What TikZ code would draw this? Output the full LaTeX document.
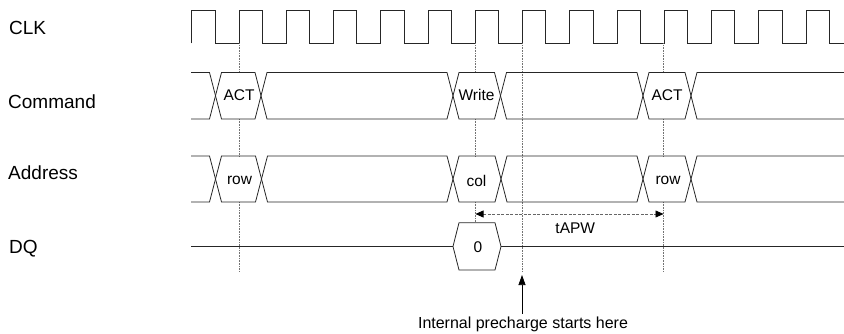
\documentclass[tikz,border=0pt]{standalone}
\usepackage{fontspec}
\setmainfont{Liberation Sans}
\usetikzlibrary{arrows.meta}
\begin{document}
\begin{tikzpicture}[x=1pt,y=-1pt,
  wave/.style={line width=0.8pt, black!85, line join=miter},
  guide/.style={black!55, densely dotted, line width=0.6pt},
  dimline/.style={black!60, dash pattern=on 3pt off 1.5pt, line width=0.6pt,
     {Triangle[length=8pt,width=7pt,black]}-{Triangle[length=8pt,width=7pt,black]}},
  sig/.style={anchor=base west, inner sep=0pt, font=\fontsize{19}{22}\selectfont},
  cell/.style={anchor=base, inner sep=0pt, font=\fontsize{15.5}{18}\selectfont},
  caption/.style={anchor=base, inner sep=0pt, font=\fontsize{16}{19}\selectfont}
]
\useasboundingbox (0,0) rectangle (844,334);

% signal names
\node[sig] (lclk) at (9,35) {CLK};
\node[sig] (lcmd) at (8,108.3) {Command};
\node[sig] (ladr) at (8,180) {Address};
\node[sig] (ldq)  at (9,253) {DQ};

% clock
\draw[wave] (191.7,43.5) -- (191.7,10)
  \foreach \k in {0,...,12} {
    -- ({191.7+47.25*\k+23.4},10) -- ({191.7+47.25*\k+23.4},43.5)
    -- ({191.7+47.25*(\k+1)},43.5) -- ({191.7+47.25*(\k+1)},10) }
  -- (829.4,10) -- (829.4,43.5) -- (844,43.5);

% guide lines
\foreach \x in {239,663.5} {
  \draw[guide] (\x,43.5) -- (\x,72.5);
  \draw[guide] (\x,119) -- (\x,156);
  \draw[guide] (\x,202) -- (\x,272);
}
\draw[guide] (475.5,43.5) -- (475.5,72.5);
\draw[guide] (475.5,119) -- (475.5,156);
\draw[guide] (475.5,202) -- (475.5,222.7);
\draw[guide] (522,43.5) -- (522,272);

% command bus
\draw[wave] (191,72.5) -- (209.5,72.5) -- (215.5,95.75) -- (209.5,119) -- (191,119);
\foreach \a/\b in {215.5/261, 261/453, 453/500.5, 500.5/643, 643/691}
  \draw[wave] (\a,95.75) -- ({\a+6},72.5) -- ({\b-6},72.5) -- (\b,95.75)
    -- ({\b-6},119) -- ({\a+6},119) -- cycle;
\draw[wave] (844,72.5) -- (697,72.5) -- (691,95.75) -- (697,119) -- (844,119);

% address bus
\draw[wave] (191,156) -- (209.5,156) -- (215.5,179) -- (209.5,202) -- (191,202);
\foreach \a/\b in {215.5/261.5, 261.5/453, 453/501, 501/643, 643/691}
  \draw[wave] (\a,179) -- ({\a+6},156) -- ({\b-6},156) -- (\b,179)
    -- ({\b-6},202) -- ({\a+6},202) -- cycle;
\draw[wave] (844,156) -- (697,156) -- (691,179) -- (697,202) -- (844,202);

% DQ
\draw[wave] (191,246.5) -- (453,246.5);
\draw[wave] (453,246.5) -- (459,222.7) -- (495,222.7) -- (501,246.5) -- (495,270) -- (459,270) -- cycle;
\draw[wave] (501,246.5) -- (844,246.5);

% cell texts
\node[cell] (act1)  at (239,100.7) {ACT};
\node[cell] (write) at (476.5,100.7) {Write};
\node[cell] (act2)  at (667,100.7) {ACT};
\node[cell] (row1)  at (239.5,185) {row};
\node[cell] (col)   at (476.5,186) {col};
\node[cell] (row2)  at (668,185) {row};
\node[cell] (d0)    at (478,252.7) {0};

% tAPW
\coordinate (w1) at (475.5,214);
\coordinate (w2) at (663.5,214);
\draw[dimline] (w1) -- (w2);
\node[cell] (tapw) at (575.3,233.3) {tAPW};

% precharge arrow
\node[caption] (pre) at (523,328.3) {Internal precharge starts here};
\coordinate (pretip) at (522,275);
\coordinate (pretail) at ([yshift=3pt]pre.north);
\draw[line width=0.7pt, -{Triangle[length=10pt,width=7pt]}] (pretail -| pretip) -- (pretip);
\end{tikzpicture}
\end{document}
